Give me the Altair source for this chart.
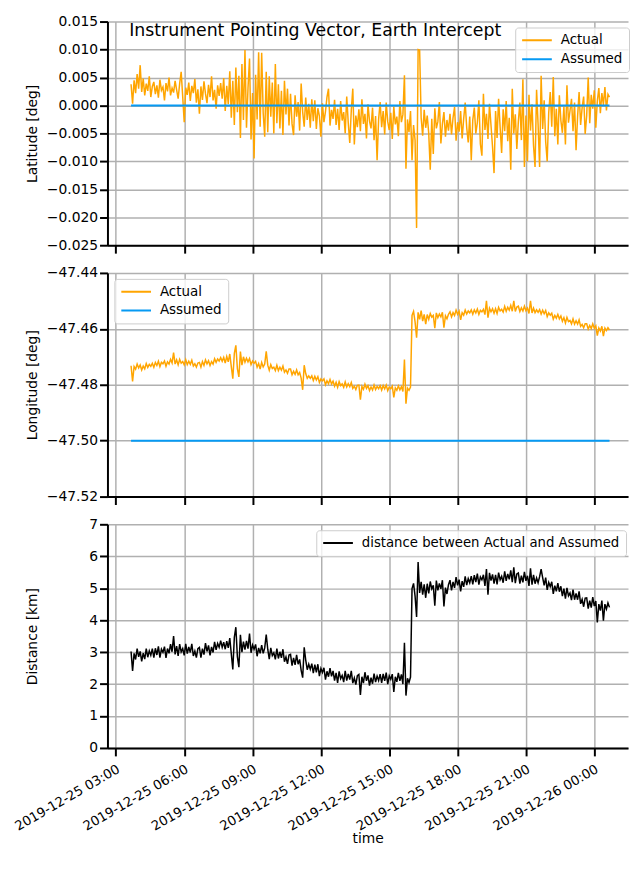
import altair as alt
import pandas as pd

TITLE = "Instrument Pointing Vector, Earth Intercept"
SERIES = ["Actual", "Assumed"]
DIST_LABEL = "distance between Actual and Assumed"
START = "2019-12-25 03:40"
STEP = "4min"

# x tick positions (year, month, day, hour)
TICKS = [(2019, 12, 25, 3), (2019, 12, 25, 6), (2019, 12, 25, 9), (2019, 12, 25, 12),
         (2019, 12, 25, 15), (2019, 12, 25, 18), (2019, 12, 25, 21), (2019, 12, 26, 0)]
X_START = (2019, 12, 25, 2, 37, 51)
X_END = (2019, 12, 26, 1, 28, 51)

LAT_TICKS = [-0.025, -0.020, -0.015, -0.010, -0.005, 0.000, 0.005, 0.010, 0.015]
LON_TICKS = [-47.52, -47.50, -47.48, -47.46, -47.44]
DIST_TICKS = [0, 1, 2, 3, 4, 5, 6, 7]

ASSUMED_LAT = 0.0
ASSUMED_LON = -47.50

# one row per hour, 4-minute samples starting at hh:40
LAT_ACTUAL = [
    0.0038, 0.0003, 0.0045, 0.0022, 0.0056, 0.0030, 0.0072, 0.0024, 0.0048, 0.0018, 0.0039, 0.0026, 0.0052, 0.0015, 0.0034,
    0.0042, 0.0020, 0.0036, 0.0014, 0.0046, 0.0027, 0.0033, 0.0009, 0.0040, 0.0025, 0.0050, 0.0018, 0.0031, 0.0023, 0.0044,
    0.0028, 0.0012, 0.0039, 0.0060, 0.0016, -0.0030, 0.0032, 0.0019, 0.0041, 0.0008, 0.0035, 0.0022, 0.0047, 0.0005, 0.0029,
    -0.0015, 0.0034, 0.0010, 0.0043, 0.0021, 0.0004, 0.0037, 0.0015, 0.0052, 0.0009, 0.0028, -0.0006, 0.0036, 0.0017, 0.0040,
    0.0012, 0.0049, -0.0010, 0.0035, 0.0002, 0.0061, -0.0022, 0.0044, -0.0035, 0.0068, -0.0012, 0.0053, -0.0058, 0.0074, -0.0026,
    0.0099, -0.0040, 0.0031, 0.0084, -0.0061, 0.0022, -0.0095, 0.0055, -0.0025, 0.0095, -0.0038, 0.0094, -0.0014, -0.0056, 0.0060,
    -0.0048, 0.0052, -0.0020, 0.0041, -0.0050, 0.0074, -0.0032, 0.0038, -0.0041, 0.0026, -0.0053, 0.0044, -0.0016, 0.0030, -0.0036,
    0.0021, -0.0033, -0.0053, 0.0018, -0.0020, 0.0006, -0.0045, 0.0039, -0.0012, -0.0038, 0.0014, -0.0026, 0.0003, -0.0040, 0.0011,
    -0.0028, 0.0009, -0.0042, -0.0005, -0.0019, -0.0056, 0.0004, -0.0030, -0.0011, 0.0015, 0.0030, -0.0036, -0.0008, -0.0024, 0.0010,
    -0.0035, -0.0006, -0.0044, 0.0008, -0.0027, -0.0012, -0.0050, 0.0016, -0.0031, -0.0067, -0.0009, 0.0030, -0.0070, -0.0018, -0.0039,
    -0.0007, -0.0046, 0.0011, -0.0033, -0.0015, -0.0059, 0.0002, -0.0028, -0.0041, -0.0004, -0.0062, -0.0019, -0.0098, -0.0025, 0.0006,
    -0.0039, -0.0010, -0.0052, 0.0005, -0.0029, -0.0044, -0.0013, -0.0060, -0.0002, -0.0034, -0.0020, -0.0055, 0.0008, -0.0030, -0.0016,
    0.0054, -0.0113, -0.0025, -0.0048, -0.0010, -0.0098, -0.0035, -0.0062, -0.0219, 0.0100, 0.0099, -0.0022, -0.0054, -0.0008, -0.0040,
    -0.0018, -0.0050, -0.0115, -0.0024, -0.0087, -0.0005, -0.0041, -0.0029, 0.0006, -0.0068, -0.0033, -0.0012, -0.0056, -0.0026, -0.0045,
    -0.0015, -0.0052, -0.0022, -0.0003, -0.0063, -0.0030, -0.0047, -0.0010, -0.0059, -0.0024, 0.0005, -0.0040, -0.0066, -0.0020, -0.0098,
    -0.0026, -0.0004, -0.0050, -0.0031, 0.0009, -0.0069, -0.0090, 0.0021, -0.0044, -0.0015, -0.0060, 0.0003, -0.0036, -0.0074, -0.0121,
    -0.0010, -0.0058, 0.0012, -0.0039, -0.0085, -0.0007, -0.0046, 0.0008, -0.0064, -0.0022, -0.0115, 0.0030, -0.0050, -0.0016, -0.0078,
    -0.0029, 0.0005, -0.0062, 0.0047, -0.0110, -0.0018, -0.0100, 0.0019, -0.0045, 0.0002, -0.0072, -0.0110, 0.0028, -0.0034, -0.0110,
    0.0053, -0.0042, 0.0009, -0.0065, -0.0100, -0.0013, 0.0024, -0.0038, 0.0051, -0.0055, -0.0006, -0.0070, 0.0018, -0.0027, -0.0049,
    -0.0002, -0.0070, 0.0036, -0.0031, -0.0010, 0.0012, -0.0046, 0.0005, -0.0080, -0.0020, 0.0024, -0.0035, -0.0004, 0.0016, -0.0051,
    -0.0018, 0.0050, -0.0032, 0.0019, -0.0006, 0.0027, -0.0040, 0.0008, 0.0031, -0.0014, 0.0022, 0.0001, 0.0033, -0.0009, 0.0020,
    0.0015,
]

LON_ACTUAL = [
    -47.4732, -47.4788, -47.4735, -47.4744, -47.4726, -47.4740, -47.4729, -47.4747, -47.4733, -47.4743, -47.4724, -47.4738, -47.4727, -47.4734, -47.4723,
    -47.4737, -47.4720, -47.4731, -47.4716, -47.4735, -47.4720, -47.4725, -47.4715, -47.4734, -47.4718, -47.4726, -47.4709, -47.4722, -47.4685, -47.4726,
    -47.4711, -47.4729, -47.4709, -47.4723, -47.4717, -47.4729, -47.4710, -47.4728, -47.4716, -47.4727, -47.4712, -47.4733, -47.4725, -47.4737, -47.4722,
    -47.4720, -47.4737, -47.4717, -47.4731, -47.4711, -47.4725, -47.4714, -47.4731, -47.4717, -47.4726, -47.4707, -47.4720, -47.4708, -47.4715, -47.4703,
    -47.4716, -47.4702, -47.4722, -47.4699, -47.4718, -47.4690, -47.4735, -47.4778, -47.4688, -47.4659, -47.4742, -47.4772, -47.4681, -47.4730, -47.4700,
    -47.4719, -47.4705, -47.4718, -47.4706, -47.4728, -47.4715, -47.4723, -47.4716, -47.4737, -47.4724, -47.4744, -47.4720, -47.4736, -47.4726, -47.4680,
    -47.4730, -47.4748, -47.4728, -47.4742, -47.4737, -47.4749, -47.4730, -47.4749, -47.4737, -47.4748, -47.4733, -47.4755, -47.4747, -47.4759, -47.4744,
    -47.4744, -47.4764, -47.4752, -47.4763, -47.4747, -47.4764, -47.4756, -47.4776, -47.4818, -47.4730, -47.4760, -47.4777, -47.4768, -47.4777, -47.4768,
    -47.4785, -47.4770, -47.4783, -47.4771, -47.4792, -47.4779, -47.4786, -47.4779, -47.4800, -47.4786, -47.4796, -47.4781, -47.4797, -47.4787, -47.4805,
    -47.4791, -47.4809, -47.4789, -47.4803, -47.4797, -47.4809, -47.4790, -47.4808, -47.4796, -47.4807, -47.4792, -47.4813, -47.4805, -47.4817, -47.4802,
    -47.4801, -47.4853, -47.4806, -47.4816, -47.4798, -47.4813, -47.4803, -47.4821, -47.4808, -47.4819, -47.4801, -47.4817, -47.4806, -47.4814, -47.4803,
    -47.4819, -47.4803, -47.4815, -47.4801, -47.4821, -47.4808, -47.4814, -47.4805, -47.4845, -47.4811, -47.4820, -47.4804, -47.4818, -47.4807, -47.4824,
    -47.4710, -47.4868, -47.4812, -47.4820, -47.4808, -47.4552, -47.4538, -47.4575, -47.4632, -47.4541, -47.4566, -47.4535, -47.4572, -47.4548, -47.4583,
    -47.4549, -47.4566, -47.4545, -47.4558, -47.4552, -47.4598, -47.4543, -47.4560, -47.4547, -47.4557, -47.4541, -47.4596, -47.4553, -47.4564, -47.4548,
    -47.4539, -47.4557, -47.4542, -47.4552, -47.4533, -47.4548, -47.4537, -47.4568, -47.4542, -47.4551, -47.4533, -47.4547, -47.4536, -47.4543, -47.4532,
    -47.4548, -47.4532, -47.4543, -47.4529, -47.4548, -47.4534, -47.4539, -47.4530, -47.4549, -47.4500, -47.4560, -47.4526, -47.4539, -47.4528, -47.4544,
    -47.4528, -47.4545, -47.4523, -47.4536, -47.4530, -47.4540, -47.4520, -47.4537, -47.4523, -47.4533, -47.4516, -47.4537, -47.4500, -47.4538, -47.4522,
    -47.4519, -47.4538, -47.4525, -47.4536, -47.4519, -47.4535, -47.4526, -47.4545, -47.4500, -47.4543, -47.4526, -47.4542, -47.4532, -47.4541, -47.4531,
    -47.4547, -47.4533, -47.4546, -47.4534, -47.4556, -47.4543, -47.4551, -47.4544, -47.4565, -47.4552, -47.4562, -47.4548, -47.4564, -47.4554, -47.4573,
    -47.4560, -47.4579, -47.4559, -47.4574, -47.4570, -47.4582, -47.4564, -47.4583, -47.4571, -47.4583, -47.4568, -47.4591, -47.4584, -47.4596, -47.4582,
    -47.4582, -47.4601, -47.4588, -47.4599, -47.4582, -47.4598, -47.4589, -47.4624, -47.4597, -47.4608, -47.4591, -47.4626, -47.4597, -47.4606, -47.4596,
    -47.4604,
]

DISTANCE = [
    3.02, 2.41, 2.96, 2.77, 3.11, 2.85, 3.02, 2.71, 2.97, 2.78, 3.11, 2.84, 3.04, 2.90, 3.11,
    2.83, 3.12, 2.91, 3.18, 2.83, 3.09, 2.99, 3.17, 2.82, 3.11, 2.96, 3.25, 3.01, 3.50, 2.93,
    3.19, 2.88, 3.25, 3.01, 3.11, 2.90, 3.26, 2.95, 3.16, 2.99, 3.26, 2.88, 3.03, 2.83, 3.11,
    3.15, 2.83, 3.11, 2.92, 3.28, 3.02, 3.21, 2.90, 3.16, 2.99, 3.32, 3.07, 3.27, 3.15, 3.36,
    3.15, 3.31, 3.09, 3.34, 3.13, 3.44, 2.94, 2.46, 3.46, 3.78, 2.86, 2.53, 3.54, 3.00, 3.33,
    3.08, 3.35, 3.11, 3.58, 2.98, 3.22, 3.09, 3.24, 2.87, 3.13, 2.96, 3.22, 2.96, 3.13, 3.55,
    3.09, 2.78, 3.13, 2.89, 2.98, 2.77, 3.11, 2.80, 3.01, 2.82, 3.09, 2.70, 2.85, 2.63, 2.91,
    2.93, 2.58, 2.82, 2.60, 2.91, 2.62, 2.77, 2.43, 2.20, 3.15, 2.75, 2.45, 2.62, 2.46, 2.64,
    2.34, 2.61, 2.37, 2.62, 2.25, 2.49, 2.36, 2.51, 2.14, 2.40, 2.23, 2.50, 2.24, 2.41, 2.11,
    2.35, 2.04, 2.40, 2.17, 2.27, 2.06, 2.41, 2.11, 2.32, 2.14, 2.41, 2.03, 2.19, 1.98, 2.26,
    2.30, 1.66, 2.23, 2.03, 2.37, 2.10, 2.27, 1.95, 2.20, 2.01, 2.33, 2.06, 2.25, 2.11, 2.31,
    2.04, 2.32, 2.10, 2.36, 2.00, 2.26, 2.15, 2.31, 1.75, 2.23, 2.07, 2.35, 2.10, 2.30, 2.00,
    3.29, 1.64, 2.18, 2.05, 2.22, 4.99, 5.15, 4.75, 4.10, 5.82, 4.85, 5.20, 4.80, 5.12, 4.70,
    5.14, 4.84, 5.21, 4.98, 5.09, 4.45, 5.24, 4.93, 5.15, 4.98, 5.25, 4.43, 5.02, 4.82, 5.11,
    5.25, 4.93, 5.20, 5.01, 5.35, 5.09, 5.27, 4.90, 5.22, 5.04, 5.37, 5.10, 5.30, 5.17, 5.38,
    5.12, 5.41, 5.19, 5.46, 5.11, 5.35, 5.26, 5.42, 5.07, 5.60, 4.80, 5.48, 5.24, 5.43, 5.14,
    5.42, 5.12, 5.49, 5.26, 5.37, 5.17, 5.53, 5.23, 5.45, 5.28, 5.56, 5.19, 5.65, 5.16, 5.45,
    5.48, 5.14, 5.39, 5.18, 5.51, 5.23, 5.39, 5.07, 5.62, 5.11, 5.42, 5.14, 5.32, 5.17, 5.36,
    5.60, 5.33, 5.09, 5.33, 4.95, 5.18, 5.05, 5.20, 4.82, 5.08, 4.90, 5.16, 4.89, 5.06, 4.75,
    4.99, 4.67, 5.01, 4.76, 4.85, 4.63, 4.96, 4.64, 4.84, 4.64, 4.90, 4.51, 4.65, 4.42, 4.69,
    4.70, 4.36, 4.61, 4.39, 4.72, 4.44, 4.60, 3.93, 4.50, 4.30, 4.61, 3.98, 4.50, 4.35, 4.54,
    4.40,
]

FONT = "DejaVu Sans"
ORANGE = "#ffa500"
BLUE = "#069af3"
W, H = 526, 226


def dt(y, mo, d, h, mi=0, s=0):
    return alt.DateTime(year=y, month=mo, date=d, hours=h, minutes=mi, seconds=s)


times = pd.date_range(START, periods=len(LAT_ACTUAL), freq=STEP)
tick_values = [dt(*t) for t in TICKS]
x_scale = alt.Scale(domain=[dt(*X_START), dt(*X_END)])


def x_enc(show):
    common = dict(values=tick_values, grid=True, tickSize=8, labelOverlap=False, labelFlush=False)
    if show:
        ax = alt.Axis(format="%Y-%m-%d %H:%M", labelAngle=-30, labelAlign="right",
                      labelBaseline="top", labelOffset=-1, labelPadding=6,
                      labelFontSize=13.3, title="time", titleY=92,
                      titleBaseline="middle", **common)
    else:
        ax = alt.Axis(labels=False, title=None, **common)
    return alt.X("time:T", scale=x_scale, axis=ax)


def y_enc(title, dom, vals, fmt):
    return alt.Y("value:Q", scale=alt.Scale(domain=dom, nice=False, zero=False),
                 axis=alt.Axis(title=title, values=vals, format=fmt, grid=True, tickSize=8,
                               titleX=-76, titleY=H / 2, titleBaseline="middle",
                               titleAngle=270, labelPadding=2))


def legend(x, y, size):
    return alt.Legend(title=None, orient="none", legendX=x, legendY=y,
                      symbolType="stroke", symbolSize=900, symbolStrokeWidth=2,
                      clipHeight=14, rowPadding=5, labelOffset=8, padding=6,
                      fillColor="rgba(255,255,255,0.8)", strokeColor="#cccccc",
                      cornerRadius=3, labelFont=FONT, labelFontSize=size,
                      labelColor="black", labelLimit=500)


def pair_panel(actual, assumed, title, dom, vals, fmt, lx, ly, show_x):
    act = pd.DataFrame({"time": times, "value": actual, "series": SERIES[0]})
    ass = pd.DataFrame({"time": times, "value": assumed, "series": SERIES[1]})
    color = alt.Color("series:N", scale=alt.Scale(domain=SERIES, range=[ORANGE, BLUE]),
                      legend=legend(lx, ly, 13.6))
    l1 = alt.Chart(act).mark_line(strokeWidth=1.5).encode(
        x=x_enc(show_x), y=y_enc(title, dom, vals, fmt), color=color)
    l2 = alt.Chart(ass).mark_line(strokeWidth=2).encode(
        x=x_enc(show_x), y=y_enc(title, dom, vals, fmt), color=color)
    return l1, l2


lat1, lat2 = pair_panel(LAT_ACTUAL, ASSUMED_LAT, "Latitude [deg]", [-0.025, 0.015],
                        LAT_TICKS, ".3f", 412, 6, False)
title_mark = alt.Chart(pd.DataFrame({"t": [TITLE]})).mark_text(
    align="left", baseline="alphabetic", font=FONT, fontSize=17.5, color="black"
).encode(x=alt.value(22), y=alt.value(15), text="t:N")
p1 = alt.layer(lat1, lat2, title_mark).properties(width=W, height=H)

lon1, lon2 = pair_panel(LON_ACTUAL, ASSUMED_LON, "Longitude [deg]", [-47.52, -47.44],
                        LON_TICKS, ".2f", 7, 6, False)
p2 = alt.layer(lon1, lon2).properties(width=W, height=H)

dist_df = pd.DataFrame({"time": times, "value": DISTANCE, "series": DIST_LABEL})
p3 = alt.Chart(dist_df).mark_line(strokeWidth=1.5).encode(
    x=x_enc(True),
    y=y_enc("Distance [km]", [0, 7], DIST_TICKS, "d"),
    color=alt.Color("series:N", scale=alt.Scale(domain=[DIST_LABEL], range=["black"]),
                    legend=legend(211, 6, 13.4)),
).properties(width=W, height=H)

chart = alt.vconcat(p1, p2, p3, spacing=28, bounds="flush").resolve_scale(
    color="independent", y="independent", x="shared"
).resolve_legend(color="independent").properties(
    padding={"left": 3.5, "top": 2.3, "right": 0, "bottom": 0},
    background="white",
).configure_axis(
    domainColor="black", domainWidth=2, tickColor="black", tickWidth=2,
    gridColor="#b0b0b0", gridWidth=1.5, labelFont=FONT, labelFontSize=14,
    labelColor="black", titleFont=FONT, titleFontSize=14, titleFontWeight="normal",
    titleColor="black",
).configure_view(stroke=None)

chart.save("out.html", embed_options={"renderer": "svg", "actions": False})
